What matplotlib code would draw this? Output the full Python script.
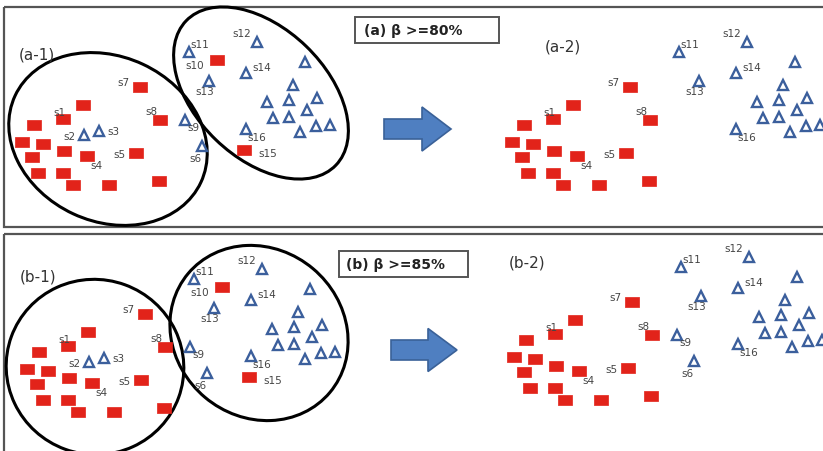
import matplotlib.pyplot as plt
from matplotlib.patches import Ellipse, Rectangle, FancyArrow

# ---- sample positions (a-1) in pixels ----
# red squares (label '' = unlabelled)
sq_x = [83, 63, 34, 140, 160, 22, 43, 64, 136, 32, 87, 38, 63, 73, 109, 159, 217, 244]
sq_y = [106, 120, 126, 88, 121, 143, 145, 152, 154, 158, 157, 174, 174, 186, 186, 182, 61, 151]
sq_lab = ['', 's1', '', 's7', 's8', '', '', '', 's5', '', 's4', '', '', '', '', '', 's10', 's15']

# blue triangles
tri_x = [84, 99, 185, 202, 189, 257, 246, 209, 246,
         305, 293, 267, 289, 317, 307, 273, 289, 300, 316, 330]
tri_y = [136, 132, 121, 147, 53, 43, 74, 82, 130,
         63, 86, 103, 101, 99, 111, 119, 118, 133, 127, 126]
tri_lab = ['s2', 's3', 's9', 's6', 's11', 's12', 's14', 's13', 's16',
           '', '', '', '', '', '', '', '', '', '', '']

# where the sample names sit
lab_names = ['s1', 's7', 's8', 's5', 's4', 's2', 's3', 's10', 's15',
             's11', 's12', 's14', 's13', 's9', 's16', 's6']
lab_x = [59, 123, 151, 119, 96, 69, 113, 195, 268, 200, 242, 262, 205, 193, 257, 195]
lab_y = [113, 83, 112, 155, 166, 137, 132, 66, 154, 45, 34, 68, 92, 128, 138, 159]

# panels: name, offset, samples removed
panels = ['(a-1)', '(a-2)', '(b-1)', '(b-2)']
panel_dx = [0, 490, 5, 492]
panel_dy = [0, 0, 227, 215]
dropped = [[], ['s2', 's3', 's6', 's9', 's10', 's15'], [], ['s2', 's3', 's10', 's15']]
panel_lab_xy = [(37, 55), (563, 47), (38, 277), (527, 263)]

titles = ['(a) \u03b2 >=80%', '(b) \u03b2 >=85%']

RED = '#e2231a'
BLUE = '#3b5f9c'

fig = plt.figure(figsize=(8.23, 4.52), dpi=100)
ax = fig.add_axes([0, 0, 1, 1])
ax.set_xlim(0, 823)
ax.set_ylim(452, 0)
ax.axis('off')

# frames
ax.add_patch(Rectangle((4, 8), 830, 220, fill=False, ec='#555555', lw=1.6))
ax.add_patch(Rectangle((4, 235), 830, 230, fill=False, ec='#555555', lw=1.6))

box_marker = [(-6.5, -5), (6.5, -5), (6.5, 5), (-6.5, 5), (-6.5, -5)]

for p in range(4):
    dx, dy = panel_dx[p], panel_dy[p]
    drop = dropped[p]
    xs = [x + dx for x, l in zip(sq_x, sq_lab) if l not in drop]
    ys = [y + dy for y, l in zip(sq_y, sq_lab) if l not in drop]
    ax.plot(xs, ys, ls='none', marker=box_marker, ms=9.5, mfc=RED, mec=RED, mew=0.5, zorder=3)
    xs = [x + dx for x, l in zip(tri_x, tri_lab) if l not in drop]
    ys = [y + dy for y, l in zip(tri_y, tri_lab) if l not in drop]
    ax.plot(xs, ys, ls='none', marker='^', ms=7.5, mfc='white', mec=BLUE, mew=1.7, zorder=3)
    for n, x, y in zip(lab_names, lab_x, lab_y):
        if n in drop:
            continue
        ax.text(x + dx, y + dy, n, fontsize=7.5, color='#454545', ha='center', va='center', zorder=4)
    lx, ly = panel_lab_xy[p]
    ax.text(lx, ly, panels[p], fontsize=11, color='#333333', ha='center', va='center')

# cluster ellipses
ax.add_patch(Ellipse((108, 140), 205, 165, angle=25, fill=False, ec='black', lw=2.2))
ax.add_patch(Ellipse((261, 94), 208, 130, angle=44, fill=False, ec='black', lw=2.2))
ax.add_patch(Ellipse((95, 368), 178, 175, angle=20, fill=False, ec='black', lw=2.2))
ax.add_patch(Ellipse((259, 334), 185, 168, angle=40, fill=False, ec='black', lw=2.2))

# title boxes
ax.add_patch(Rectangle((355, 18), 144, 26, fill=True, fc='white', ec='#555555', lw=1.4))
ax.text(364, 31, titles[0], fontsize=10, fontweight='bold', color='#222222', va='center')
ax.add_patch(Rectangle((339, 252), 129, 26, fill=True, fc='white', ec='#555555', lw=1.4))
ax.text(346, 265, titles[1], fontsize=10, fontweight='bold', color='#222222', va='center')

# arrows
ax.add_patch(FancyArrow(384, 130, 67, 0, width=20, head_width=44, head_length=29,
                        length_includes_head=True, fc='#4f7fc1', ec='#3a6198', lw=1.2))
ax.add_patch(FancyArrow(391, 351, 66, 0, width=20, head_width=43, head_length=29,
                        length_includes_head=True, fc='#4f7fc1', ec='#3a6198', lw=1.2))

fig.savefig('out.png', dpi=100)
